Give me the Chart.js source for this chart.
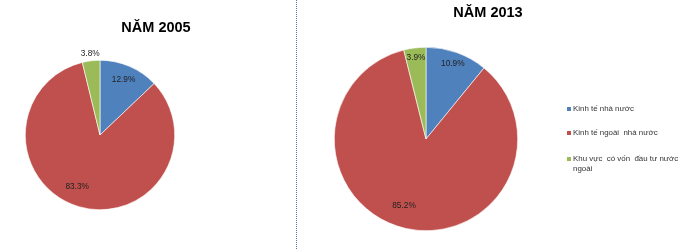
<!DOCTYPE html>
<html>
<head>
<meta charset="utf-8">
<script src="https://cdn.jsdelivr.net/npm/chart.js@4"></script>
<style>
  html, body { margin: 0; padding: 0; background: #fff; }
  #wrap { position: relative; width: 680px; height: 249px; overflow: hidden; }
  canvas { position: absolute; top: 0; }
  #divider { position: absolute; left: 296px; top: 0; width: 0; height: 249px; border-left: 1px dotted #4a7ebb; }
</style>
</head>
<body>
<div id="wrap">
  <canvas id="pie2005" width="296" height="249" style="left:0"></canvas>
  <div id="divider"></div>
  <canvas id="pie2013" width="383" height="249" style="left:297px"></canvas>
</div>
<script>
// ---- chart data ----
const categories = ['Kinh tế nhà nước', 'Kinh tế ngoài nhà nước', 'Khu vực có vốn đầu tư nước ngoài'];
const values2005 = [12.9, 83.3, 3.8];
const values2013 = [10.9, 85.2, 3.9];
const sliceColors = ['#4F81BD', '#C0504D', '#9BBB59'];
const legendLines = [['Kinh tế nhà nước'], ['Kinh tế ngoài  nhà nước'], ['Khu vực  có vốn  đầu tư nước', 'ngoài']];

// ---- draws title, value labels and (optionally) legend ----
const pieDecor = {
    id: 'pieDecor',
    afterDraw(chart, args, opts) {
        const ctx = chart.ctx;
        ctx.save();

        // title
        ctx.font = 'bold 14.5px "Liberation Sans", Arial, sans-serif';
        ctx.fillStyle = '#000';
        ctx.textAlign = 'center';
        ctx.textBaseline = 'middle';
        ctx.fillText(opts.title, opts.titleX, opts.titleY);

        // value labels
        const meta = chart.getDatasetMeta(0);
        const data = chart.data.datasets[0].data;
        ctx.font = '8.3px "Liberation Sans", Arial, sans-serif';
        ctx.fillStyle = '#222';
        meta.data.forEach((arc, i) => {
            const p = arc.getProps(['x', 'y', 'startAngle', 'endAngle', 'outerRadius'], true);
            const mid = (p.startAngle + p.endAngle) / 2;
            const r = p.outerRadius * opts.labelRadius[i];
            const x = p.x + Math.cos(mid) * r + (opts.labelShift ? opts.labelShift[i][0] : 0);
            const y = p.y + Math.sin(mid) * r + (opts.labelShift ? opts.labelShift[i][1] : 0);
            ctx.fillText(data[i].toFixed(1) + '%', x, y);
        });

        // legend
        if (opts.legend) {
            ctx.textAlign = 'left';
            ctx.font = '7.9px "Liberation Sans", Arial, sans-serif';
            legendLines.forEach((lines, i) => {
                const y = opts.legendY[i];
                ctx.fillStyle = sliceColors[i];
                ctx.fillRect(opts.legendX, y - 2, 4, 4);
                ctx.fillStyle = '#333';
                lines.forEach((t, j) => {
                    ctx.fillText(t, opts.legendX + 6, y + j * 10);
                });
            });
        }
        ctx.restore();
    }
};

function makePie(id, values, padding, decor) {
    return new Chart(document.getElementById(id), {
        type: 'pie',
        data: {
            labels: categories,
            datasets: [{
                data: values,
                backgroundColor: sliceColors,
                borderColor: '#ffffff',
                borderWidth: 0.6
            }]
        },
        options: {
            responsive: false,
            animation: false,
            devicePixelRatio: 1,
            layout: { padding: padding },
            plugins: {
                legend: { display: false },
                tooltip: { enabled: false },
                title: { display: false },
                pieDecor: decor
            }
        },
        plugins: [pieDecor]
    });
}

makePie('pie2005', values2005,
    { left: 25, right: 121, top: 60, bottom: 39 },
    { title: 'NĂM 2005', titleX: 156, titleY: 28,
      labelRadius: [0.8, 0.8, 1.1], labelShift: [[0, 0], [-6, -6], [0, 0]], legend: false });

makePie('pie2013', values2013,
    { left: 37, right: 162, top: 47, bottom: 18 },
    { title: 'NĂM 2013', titleX: 191, titleY: 13,
      labelRadius: [0.87, 0.8, 0.89], labelShift: [[0, 0], [-6, -5], [0, 0]], legend: true,
      legendX: 270, legendY: [109, 133, 159] });
</script>
</body>
</html>
